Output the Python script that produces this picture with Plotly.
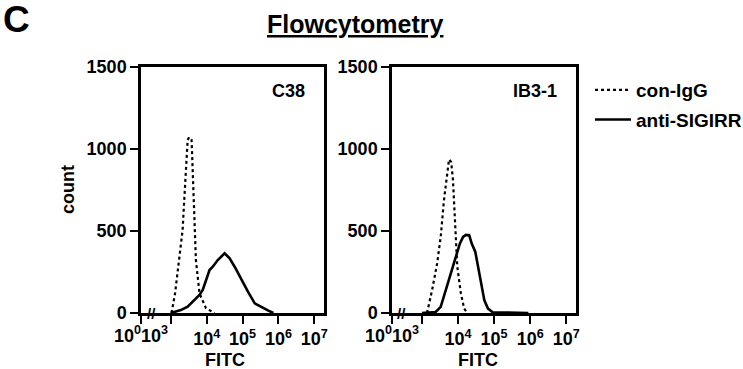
import plotly.graph_objects as go

# ---- data (x in log10 FITC units, y = count) ----
c38_igg_logx = [3.02, 3.12, 3.23, 3.33, 3.37, 3.42, 3.47, 3.51, 3.58, 3.61, 3.65, 3.70, 3.80, 3.98, 4.22]
c38_igg_count = [0, 120, 323, 506, 669, 831, 1055, 1072, 1055, 872, 567, 323, 120, 29, 0]

c38_anti_logx = [3.00, 3.28, 3.47, 3.65, 3.80, 3.89, 3.98, 4.08, 4.17, 4.31, 4.50, 4.64, 4.78, 4.97, 5.15, 5.34, 5.53, 5.72, 5.86]
c38_anti_count = [0, 18, 39, 79, 110, 140, 201, 262, 282, 323, 364, 334, 282, 201, 130, 59, 35, 14, 0]

ib3_igg_logx = [3.14, 3.28, 3.42, 3.52, 3.61, 3.70, 3.75, 3.81, 3.86, 3.92, 3.98, 4.08, 4.17, 4.26]
ib3_igg_count = [0, 138, 301, 464, 687, 850, 936, 921, 810, 545, 281, 118, 27, 0]

ib3_anti_logx = [3.00, 3.38, 3.52, 3.66, 3.80, 3.94, 4.05, 4.14, 4.22, 4.31, 4.38, 4.48, 4.56, 4.64, 4.73, 4.83, 4.96, 5.30, 5.90, 5.95]
ib3_anti_count = [0, 6, 37, 138, 240, 342, 423, 464, 476, 474, 423, 372, 281, 179, 77, 27, 5, 3, 2, 0]

x_tickvals = [2.17, 3, 4, 5, 6, 7]
x_ticktext = ["10<sup>0</sup>", "10<sup>3</sup>", "10<sup>4</sup>", "10<sup>5</sup>", "10<sup>6</sup>", "10<sup>7</sup>"]
# the first two labels are drawn side by side (left of their ticks), as in the source figure
x_shifted_labels = 2
y_tickvals = [0, 500, 1000, 1500]
panel_labels = ["C38", "IB3-1"]
series_names = ["con-IgG", "anti-SIGIRR"]

FONT = "Liberation Sans, Arial, sans-serif"
W, H = 743, 369

fig = go.Figure()

panels = [
    (c38_igg_logx, c38_igg_count, c38_anti_logx, c38_anti_count, "x", "y"),
    (ib3_igg_logx, ib3_igg_count, ib3_anti_logx, ib3_anti_count, "x2", "y2"),
]
for i, (gx, gy, ax_, ay, xa, ya) in enumerate(panels):
    fig.add_trace(go.Scatter(x=gx, y=gy, mode="lines", name=series_names[0],
                             line=dict(color="black", width=2.2, dash="dot"),
                             xaxis=xa, yaxis=ya, showlegend=(i == 0), legendgroup="a"))
    fig.add_trace(go.Scatter(x=ax_, y=ay, mode="lines", name=series_names[1],
                             line=dict(color="black", width=2.6),
                             xaxis=xa, yaxis=ya, showlegend=(i == 0), legendgroup="b"))

def px_x(p):
    return p / W

def px_y(p):
    return 1 - p / H

xdoms = [[px_x(141), px_x(324)], [px_x(392), px_x(576)]]
ydom = [px_y(313), px_y(67)]

tick_font = dict(family=FONT, size=18, color="black", weight="bold")
axis_common = dict(showline=True, linecolor="black", linewidth=2.5, mirror=True,
                   ticks="outside", ticklen=8, tickwidth=2, tickcolor="black",
                   showgrid=False, zeroline=False, tickfont=tick_font)

axis_ticktext = [""] * x_shifted_labels + x_ticktext[x_shifted_labels:]
for i, (xa, ya) in enumerate([("xaxis", "yaxis"), ("xaxis2", "yaxis2")]):
    xaxis = dict(domain=xdoms[i], range=[2.17, 7.27], tickvals=x_tickvals, ticktext=axis_ticktext,
                 tickangle=0, anchor="y" if i == 0 else "y2", ticklabelstandoff=0, **axis_common)
    yaxis = dict(domain=ydom, range=[0, 1500], tickvals=y_tickvals,
                 anchor="x" if i == 0 else "x2", ticklabelstandoff=0, **axis_common)
    fig.layout[xa] = xaxis
    fig.layout[ya] = yaxis

ann = []
ann.append(dict(text="<b>C</b>", x=px_x(1), y=px_y(20), xref="paper", yref="paper",
                xanchor="left", yanchor="middle", showarrow=False,
                font=dict(family=FONT, size=37, color="black")))
ann.append(dict(text="<b><u>Flowcytometry</u></b>", x=px_x(355), y=px_y(24), xref="paper", yref="paper",
                xanchor="center", yanchor="middle", showarrow=False,
                font=dict(family=FONT, size=25, color="black")))
ann.append(dict(text="<b>count</b>", x=px_x(68), y=px_y(190), xref="paper", yref="paper",
                xanchor="center", yanchor="middle", showarrow=False, textangle=-90,
                font=dict(family=FONT, size=18, color="black")))
for cx, lbl in zip([288, 535], panel_labels):
    ann.append(dict(text="<b>%s</b>" % lbl, x=px_x(cx), y=px_y(91), xref="paper", yref="paper",
                    xanchor="center", yanchor="middle", showarrow=False,
                    font=dict(family=FONT, size=18, color="black")))
for cx in [225, 478]:
    ann.append(dict(text="<b>FITC</b>", x=px_x(cx), y=px_y(360), xref="paper", yref="paper",
                    xanchor="center", yanchor="middle", showarrow=False,
                    font=dict(family=FONT, size=18, color="black")))
for cx in [151, 401]:
    ann.append(dict(text="<b>//</b>", x=px_x(cx), y=px_y(313), xref="paper", yref="paper",
                    xanchor="center", yanchor="middle", showarrow=False,
                    font=dict(family=FONT, size=15, color="black")))
# first two x tick labels: 10^0 ends at ~143 px, 10^3 ends just left of its tick
for left in [141, 392]:
    ends = [left + 1, left + 28]
    for k in range(x_shifted_labels):
        ann.append(dict(text="<b>%s</b>" % x_ticktext[k], x=px_x(ends[k]), y=px_y(322),
                        xref="paper", yref="paper", xanchor="right", yanchor="top",
                        showarrow=False, borderpad=0,
                        font=dict(family=FONT, size=18, color="black")))

fig.update_layout(
    width=W, height=H,
    margin=dict(l=0, r=0, t=0, b=0, autoexpand=False),
    paper_bgcolor="white", plot_bgcolor="white",
    annotations=ann,
    showlegend=True,
    legend=dict(x=px_x(590), y=px_y(71), xanchor="left", yanchor="top",
                font=dict(family=FONT, size=19, color="black", weight="bold"),
                bgcolor="rgba(0,0,0,0)", tracegroupgap=2, itemwidth=36),
)

fig.write_html("out.html", config={"displayModeBar": False},
               post_script="document.body.style.margin='0';document.body.style.overflow='hidden';")
